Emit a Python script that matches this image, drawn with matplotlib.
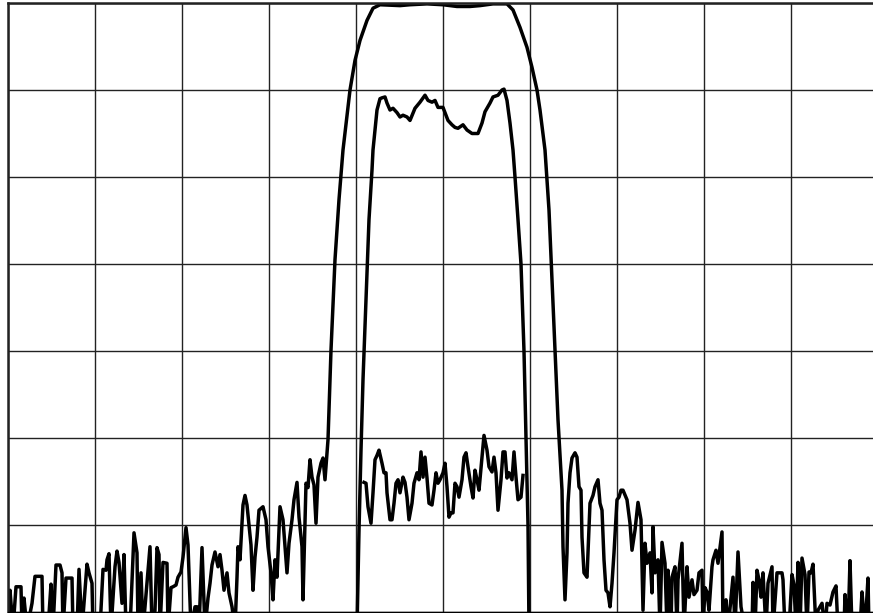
import numpy as np
import matplotlib
matplotlib.use("Agg")
import matplotlib.pyplot as plt

# trace point index (0..870) and level in dB
# wide trace (flat top + skirts / sidelobes)
wide_idx = [0, 2, 5, 8, 13, 14, 16, 19, 24, 27, 34, 35, 40, 43, 45, 48, 52, 54, 55, 58,
            64, 65, 69, 71, 74, 79, 81, 84, 85, 92, 95, 98, 99, 101, 103, 107, 109, 111, 114, 116,
            118, 122, 126, 129, 130, 133, 135, 137, 142, 144, 147, 149, 151, 152, 155, 159, 160, 163, 165, 168,
            170, 173, 175, 178, 180, 183, 187, 189, 191, 194, 197, 200, 202, 204, 207, 210, 212, 214, 216, 219,
            221, 224, 227, 229, 230, 232, 235, 237, 239, 241, 243, 245, 247, 249, 251, 255, 258, 260, 263, 265,
            267, 269, 272, 275, 278, 279, 281, 284, 286, 289, 291, 294, 295, 298, 300, 302, 304, 306, 308, 310,
            313, 315, 317, 319, 320, 323, 327, 331, 335, 339, 342, 347, 352, 359, 365, 372, 392, 402, 419, 435,
            449, 462, 472, 485, 499, 505, 512, 519, 524, 529, 532, 537, 541, 544, 547, 550, 552, 554, 555, 557,
            559, 560, 562, 564, 567, 569, 571, 573, 574, 576, 579, 580, 582, 585, 587, 590, 592, 594, 596, 598,
            600, 602, 604, 606, 609, 611, 613, 615, 619, 622, 624, 627, 630, 633, 635, 637, 639, 642, 644, 645,
            647, 650, 652, 654, 657, 659, 660, 663, 664, 667, 669, 670, 674, 676, 679, 681, 684, 686, 689, 691,
            694, 695, 697, 699, 701, 704, 705, 708, 710, 714, 715, 718, 720, 725, 727, 730, 733, 737, 744, 745,
            747, 749, 751, 753, 755, 758, 760, 764, 765, 769, 774, 775, 777, 781, 784, 786, 788, 790, 792, 794,
            797, 799, 801, 803, 805, 808, 810, 814, 817, 819, 822, 825, 828, 830, 836, 837, 840, 842, 844, 847,
            852, 854, 857, 860, 861, 865, 870]
wide_db = [-72, -67.5, -72, -67.1, -67.1, -72, -68.4, -72, -69.0, -65.9, -65.9, -72, -72, -66.8, -72, -64.6, -64.6, -65.5, -72, -66.1,
           -66.1, -72, -72, -65.1, -72, -64.5, -65.5, -66.7, -72, -72, -65.1, -65.2, -64.0, -63.3, -72, -64.8, -63.0, -64.3, -69.0, -63.4,
           -72, -72, -60.9, -63.2, -72, -65.5, -72, -69.4, -62.5, -72, -69.8, -62.6, -63.4, -72, -64.3, -64.4, -72, -67.2, -67.1, -66.9,
           -66.0, -65.4, -63.7, -60.3, -62.3, -72, -69.4, -69.4, -72, -62.6, -72, -68.4, -66.7, -64.6, -63.1, -64.8, -63.4, -65.2, -67.5, -65.5,
           -67.8, -69.4, -72, -66.0, -62.5, -64.0, -57.7, -56.6, -57.7, -60.0, -62.3, -67.5, -63.7, -61.4, -58.3, -57.9, -59.4, -62.5, -65.5, -68.6,
           -64.0, -66.0, -57.9, -59.4, -64.0, -65.5, -62.1, -59.4, -57.1, -55.1, -59.1, -62.5, -68.6, -55.2, -55.7, -52.5, -54.5, -55.4, -59.8, -54.5,
           -52.9, -52.3, -54.8, -51.7, -50.2, -39.9, -29.5, -22.6, -16.9, -12.9, -10.0, -6.6, -4.3, -2.0, -0.6, -0.2, -0.3, -0.2, -0.1, -0.2,
           -0.4, -0.4, -0.3, -0.1, -0.1, -0.8, -2.8, -5.1, -7.4, -10.0, -12.3, -16.9, -23.8, -31.8, -39.9, -47.9, -51.9, -56.0, -62.5, -68.6,
           -63.2, -57.5, -54.0, -52.3, -51.7, -52.2, -55.6, -56.0, -61.4, -65.5, -66.0, -63.2, -57.5, -56.6, -55.6, -54.8, -57.5, -58.3, -64.0, -67.5,
           -67.8, -69.4, -66.7, -63.2, -57.1, -56.8, -56.0, -56.0, -57.1, -59.8, -62.9, -60.6, -57.4, -59.4, -69.8, -62.1, -64.4, -63.2, -67.8, -60.2,
           -65.5, -64.0, -72, -62.0, -64.4, -72, -65.2, -72, -66.0, -64.8, -72, -66.3, -62.1, -72, -64.8, -68.3, -66.3, -68.0, -67.5, -65.5,
           -65.2, -72, -67.2, -67.7, -69.8, -64.8, -64.0, -62.9, -64.4, -60.8, -72, -68.6, -72, -66.0, -72, -63.1, -69.4, -72, -72, -66.6,
           -72, -65.2, -66.3, -68.3, -65.5, -72, -66.7, -64.8, -72, -65.5, -65.5, -66.3, -72, -72, -65.7, -66.9, -72, -64.3, -72, -63.8,
           -65.7, -72, -65.4, -65.5, -64.5, -72, -69.8, -69.0, -72, -69.0, -69.2, -67.7, -67.0, -72, -72, -68.0, -72, -64.1, -72, -72,
           -72, -67.7, -72, -66.1, -72, -72, -72]

# narrow trace (channel with ripple)
narrow_idx = [349, 351, 353, 355, 358, 361, 364, 365, 369, 372, 374, 377, 379, 382, 385, 389, 392, 395, 399, 402,
              407, 412, 417, 420, 424, 427, 430, 435, 440, 444, 447, 450, 455, 459, 464, 470, 474, 477, 482, 485,
              490, 494, 496, 499, 502, 505, 507, 510, 513, 516, 518, 520, 521]
narrow_db = [-72, -60.6, -51.4, -43.3, -34.1, -24.9, -19.2, -16.9, -12.3, -11.0, -10.9, -10.8, -11.5, -12.3, -12.1, -12.6, -13.1, -12.9, -13.1, -13.5,
             -12.1, -11.4, -10.6, -11.2, -11.4, -11.2, -12.0, -12.0, -13.5, -14.0, -14.3, -14.4, -14.0, -14.6, -15.0, -15.0, -13.8, -12.5, -11.5, -10.8,
             -10.6, -10.0, -9.9, -11.2, -13.8, -16.9, -20.0, -24.9, -30.0, -40.0, -50.0, -60.0, -72]

# in-band residual trace
inband_idx = [356, 358, 360, 363, 365, 367, 369, 371, 374, 376, 378, 379, 382, 384, 386, 388, 390, 392, 395, 397,
              399, 401, 404, 406, 409, 411, 413, 415, 417, 419, 421, 424, 426, 428, 430, 432, 435, 437, 439, 441,
              443, 445, 447, 449, 451, 454, 456, 458, 460, 463, 465, 467, 469, 471, 474, 476, 479, 481, 484, 486,
              488, 490, 493, 495, 497, 499, 501, 504, 506, 508, 510, 513, 515]
inband_db = [-55.1, -55.2, -57.9, -59.8, -56.3, -52.5, -52.0, -51.4, -52.9, -54.0, -54.0, -56.3, -59.4, -59.4, -57.5, -55.2, -54.8, -56.3, -54.5, -55.1,
             -56.8, -59.4, -57.5, -55.2, -54.0, -54.8, -51.6, -54.5, -52.2, -54.6, -57.5, -57.7, -56.0, -54.0, -55.2, -54.8, -54.0, -52.9, -55.6, -59.1,
             -58.6, -58.6, -55.2, -55.6, -56.8, -54.8, -52.2, -51.7, -53.3, -55.6, -56.9, -53.7, -54.8, -56.0, -52.2, -49.7, -51.4, -53.3, -53.9, -52.2,
             -54.0, -58.3, -54.8, -51.6, -51.6, -54.6, -54.0, -54.8, -51.6, -54.5, -57.1, -56.8, -54.3]

n_points = 870
ref_level = 0
db_per_div = 10
n_ydiv = 7
n_xdiv = 10

fig = plt.figure(figsize=(8.73, 6.13), dpi=100)
ax = fig.add_axes([8 / 873, 1 / 613, 870 / 873, 609 / 613])

for xs, ys in [(wide_idx, wide_db), (narrow_idx, narrow_db), (inband_idx, inband_db)]:
    ax.plot(xs, ys, color="black", lw=2.5, solid_joinstyle="round")

ax.set_xlim(0, n_points)
ax.set_ylim(ref_level - n_ydiv * db_per_div, ref_level)
ax.set_xticks(np.arange(0, n_points + 1, n_points / n_xdiv))
ax.set_yticks(np.arange(ref_level - n_ydiv * db_per_div, ref_level + 1, db_per_div))
ax.grid(True, color="#222222", lw=1.0)
ax.tick_params(length=0, labelbottom=False, labelleft=False)
for side in ["left", "top"]:
    ax.spines[side].set_linewidth(1.8)
    ax.spines[side].set_color("#222222")
ax.spines["right"].set_visible(False)
ax.spines["bottom"].set_linewidth(1.0)

fig.savefig("out.png", dpi=100)
